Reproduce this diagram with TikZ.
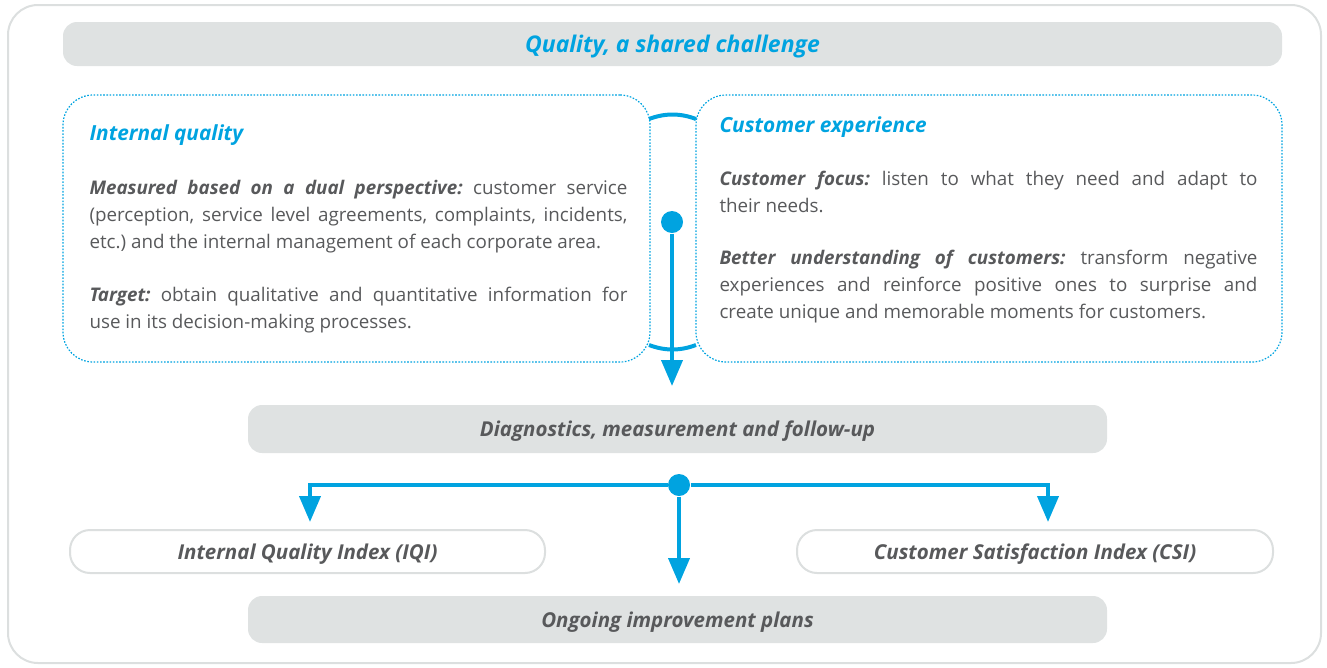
\documentclass[tikz,border=0pt]{standalone}
\usepackage{fontspec}
\setsansfont{Open Sans}
\usetikzlibrary{arrows.meta}
\definecolor{qblue}{HTML}{00A3E0}
\definecolor{qgrey}{HTML}{DFE2E2}
\definecolor{qtext}{HTML}{58595B}
\definecolor{qline}{HTML}{DCDFDF}
\frenchspacing

\begin{document}
\begin{tikzpicture}[x = 1pt, y = -1pt, line width = 1pt,
                    bar/.style = {rounded corners = 14pt, fill = qgrey, inner sep = 0pt, text = qtext,
                                  text height = 15pt, text depth = 0pt,
                                  font = \sffamily\bfseries\itshape\fontsize{20.5}{22}\selectfont},
                    pill/.style = {rounded corners = 20pt, draw = qline, line width = 2pt, fill = white,
                                   inner sep = 0pt, text = qtext, text height = 15pt, text depth = 0pt,
                                   font = \sffamily\bfseries\itshape\fontsize{20.5}{22}\selectfont},
                    dotbox/.style = {rounded corners = 30pt, draw = qblue, line width = 1.2pt,
                                     dash pattern = on 1.6pt off 1.6pt, inner sep = 0pt},
                    head/.style = {anchor = base west, inner sep = 0pt, text = qblue,
                                   font = \sffamily\bfseries\itshape\fontsize{20.8}{22}\selectfont},
                    para/.style = {anchor = north west, inner sep = 0pt, text = qtext, text width = 538pt,
                                   align = justify, font = \sffamily\fontsize{18.8}{27}\selectfont},
                    hub/.style = {circle, fill = qblue, inner sep = 0pt, minimum size = 22pt},
                    arr/.style = {draw = qblue, line width = 4pt, -{Triangle[length = 26pt, width = 21pt]}}]
      \useasboundingbox (0, 0) rectangle (1327, 667);
      \draw [qline, line width = 2pt, rounded corners = 30pt] (8, 5) rectangle (1321, 663);

      \node [bar, minimum width = 1219pt, minimum height = 44pt, text = qblue, text height = 16.5pt,
             font = \sffamily\bfseries\itshape\fontsize{23}{24}\selectfont] (title) at (672.5, 44) {Quality, a shared challenge};

      \node [dotbox, minimum width = 587pt, minimum height = 267pt] (iq) at (356.5, 228.5) {};
      \node [dotbox, minimum width = 586pt, minimum height = 267pt] (ce) at (989, 228.5) {};

      \node [head] (iqh) at (89, 140) {Internal quality};
      \node [para] (iqp1) at (89, 180) {\textbf{\textit{Measured based on a dual perspective:}} customer service\linebreak
        (perception, service level agreements, complaints, incidents,\linebreak
        etc.) and the internal management of each corporate area.};
      \node [para] (iqp2) at (89, 287) {\textbf{\textit{Target:}} obtain qualitative and quantitative information for\linebreak
        use in its decision-making processes.};

      \node [head] (ceh) at (719, 132) {Customer experience};
      \node [para] (cep1) at (719, 171) {\textbf{\textit{Customer focus:}} listen to what they need and adapt to\linebreak
        their needs.};
      \node [para] (cep2) at (719, 250) {\textbf{\textit{Better understanding of customers:}} transform negative\linebreak
        experiences and reinforce positive ones to surprise and\linebreak
        create unique and memorable moments for customers.};

      \draw [qblue, line width = 4pt] (649, 119) .. controls (665, 113) and (680, 113) .. (696, 119);
      \draw [qblue, line width = 4pt] (649, 345) .. controls (665, 351) and (680, 351) .. (696, 345);

      \node [hub] (d1) at (672, 222) {};
      \coordinate (t1) at (672, 386);
      \draw [arr] (d1) -- (t1);

      \node [bar, minimum width = 859pt, minimum height = 48pt] (diag) at (677.5, 429) {Diagnostics, measurement and follow-up};

      \node [hub] (d2) at (679, 485) {};
      \coordinate (t2) at (310, 522);
      \coordinate (t3) at (1048, 522);
      \coordinate (t4) at (679, 584);
      \draw [arr] (d2) -| (t2);
      \draw [arr] (d2) -| (t3);
      \draw [arr] (d2) -- (t4);

      \node [pill, minimum width = 475pt, minimum height = 43pt] (iqi) at (307.5, 551.5) {Internal Quality Index (IQI)};
      \node [pill, minimum width = 476pt, minimum height = 43pt] (csi) at (1035, 551.5) {Customer Satisfaction Index (CSI)};

      \node [bar, minimum width = 859pt, minimum height = 47pt] (plans) at (677.5, 619.5) {Ongoing improvement plans};
    \end{tikzpicture}
\end{document}
